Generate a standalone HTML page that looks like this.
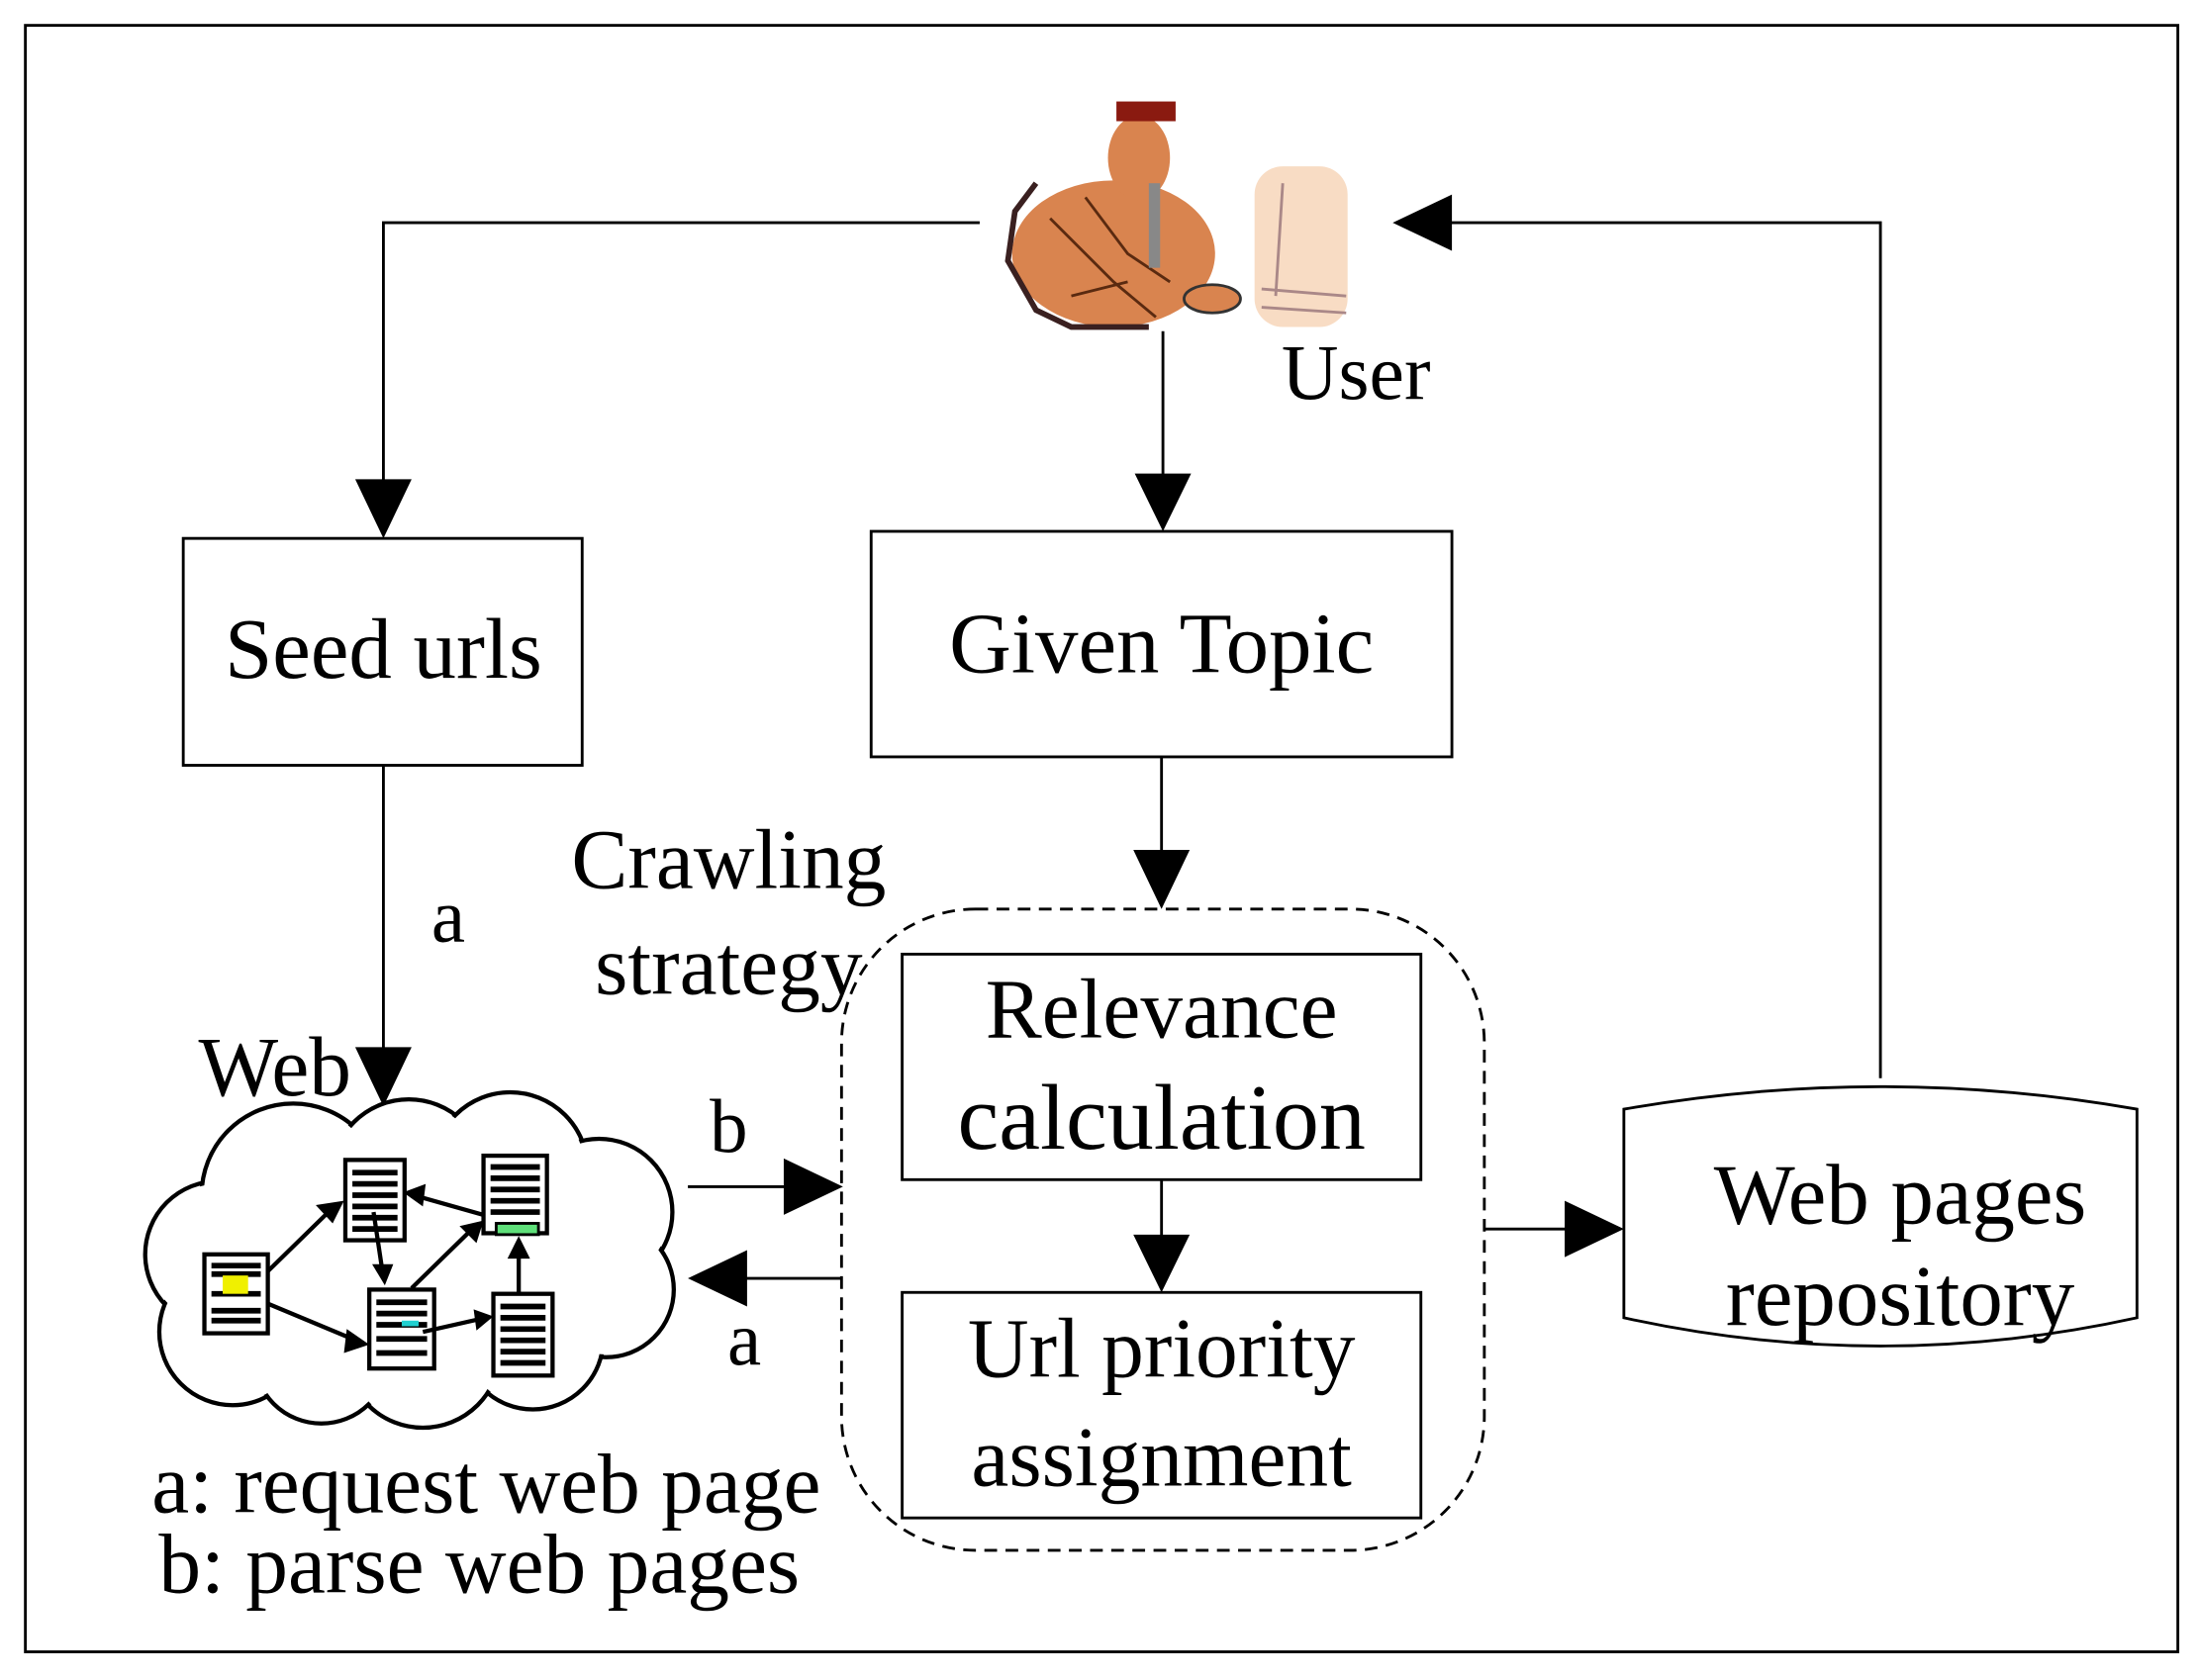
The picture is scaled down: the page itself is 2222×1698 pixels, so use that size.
<!DOCTYPE html>
<html><head><meta charset="utf-8"><style>
html,body{margin:0;padding:0;background:#fff}
svg{display:block}
text{font-family:"Liberation Serif",serif;fill:#000}
</style></head><body>
<svg width="2222" height="1698" viewBox="0 0 1560 1192" preserveAspectRatio="none" xmlns="http://www.w3.org/2000/svg">
<rect x="18" y="18" width="1527" height="1154" fill="none" stroke="#000" stroke-width="2"/>

<!-- User icon -->
<g>
<ellipse cx="790" cy="180" rx="72" ry="52" fill="#d9844f"/>
<path d="M735 130 L720 150 L715 185 L735 220 L760 232 L815 232" fill="none" stroke="#3a2020" stroke-width="4"/>
<path d="M745 155 L790 200 L820 225 M770 140 L800 180 L830 200 M760 210 L800 200" fill="none" stroke="#5a2a10" stroke-width="2"/>
<ellipse cx="808" cy="112" rx="22" ry="30" fill="#d9844f"/>
<rect x="792" y="72" width="42" height="14" fill="#8a1a10"/>
<rect x="815" y="130" width="8" height="60" fill="#888"/>
<ellipse cx="860" cy="212" rx="20" ry="10" fill="#d9844f" stroke="#333" stroke-width="2"/>
<rect x="890" y="118" width="66" height="114" rx="20" fill="#f8dcc4"/>
<path d="M910 130 L905 210 M895 205 L955 210 M895 218 L955 222" stroke="#a88" stroke-width="2" fill="none"/>
</g>
<text x="962" y="283" font-size="56" text-anchor="middle">User</text>

<!-- connectors -->
<g stroke="#000" stroke-width="2" fill="none">
<polyline points="695,158 272,158 272,345"/>
<line x1="825" y1="235" x2="825" y2="340"/>
<line x1="824" y1="537" x2="824" y2="605"/>
<line x1="824" y1="837" x2="824" y2="878"/>
<line x1="272" y1="543" x2="272" y2="745"/>
<line x1="488" y1="842" x2="560" y2="842"/>
<line x1="597" y1="907" x2="528" y2="907"/>
<line x1="1053" y1="872" x2="1112" y2="872"/>
<polyline points="1334,765 1334,158 1028,158"/>
</g>
<g fill="#000">
<polygon points="252,340 292,340 272,382"/>
<polygon points="805,336 845,336 825,377"/>
<polygon points="804,603 844,603 824,645"/>
<polygon points="804,876 844,876 824,917"/>
<polygon points="252,743 292,743 272,785"/>
<polygon points="556,822 556,862 598,842"/>
<polygon points="530,887 530,927 488,907"/>
<polygon points="1110,852 1110,892 1152,872"/>
<polygon points="1030,138 1030,178 988,158"/>
</g>

<!-- boxes -->
<g fill="none" stroke="#000" stroke-width="2">
<rect x="130" y="382" width="283" height="161"/>
<rect x="618" y="377" width="412" height="160"/>
<rect x="640" y="677" width="368" height="160"/>
<rect x="640" y="917" width="368" height="160"/>
<rect x="597" y="645" width="456" height="455" rx="95" ry="95" stroke-dasharray="9,6"/>
<path d="M1152 787 Q1334 755 1516 787 L1516 935 Q1334 975 1152 935 Z"/>
</g>
<text x="272" y="481" font-size="61" text-anchor="middle">Seed urls</text>
<text x="824" y="477" font-size="61" text-anchor="middle">Given Topic</text>
<text x="824" y="736" font-size="60" text-anchor="middle">Relevance</text>
<text x="824" y="815" font-size="66" text-anchor="middle">calculation</text>
<text x="824" y="977" font-size="60" text-anchor="middle">Url priority</text>
<text x="824" y="1054" font-size="60" text-anchor="middle">assignment</text>
<text x="1348" y="868" font-size="61" text-anchor="middle">Web pages</text>
<text x="1348" y="940" font-size="61" text-anchor="middle">repository</text>
<text x="517" y="630" font-size="60" text-anchor="middle">Crawling</text>
<text x="517" y="705" font-size="60" text-anchor="middle">strategy</text>
<text x="318" y="668" font-size="54" text-anchor="middle">a</text>
<text x="195" y="777" font-size="60" text-anchor="middle">Web</text>
<text x="517" y="817" font-size="54" text-anchor="middle">b</text>
<text x="528" y="968" font-size="54" text-anchor="middle">a</text>
<text x="345" y="1073" font-size="60" text-anchor="middle">a: request web page</text>
<text x="340" y="1130" font-size="60" text-anchor="middle">b: parse web pages</text>

<!-- cloud -->
<g stroke="#000" stroke-width="3" fill="#fff">
<circle cx="155" cy="890" r="52"/>
<circle cx="165" cy="945" r="52"/>
<circle cx="208" cy="848" r="65"/>
<circle cx="290" cy="835" r="55"/>
<circle cx="362" cy="830" r="55"/>
<circle cx="425" cy="860" r="52"/>
<circle cx="430" cy="915" r="48"/>
<circle cx="378" cy="950" r="50"/>
<circle cx="300" cy="958" r="55"/>
<circle cx="228" cy="962" r="48"/>
</g>
<g fill="#fff">
<circle cx="155" cy="890" r="50"/>
<circle cx="165" cy="945" r="50"/>
<circle cx="208" cy="848" r="63"/>
<circle cx="290" cy="835" r="53"/>
<circle cx="362" cy="830" r="53"/>
<circle cx="425" cy="860" r="50"/>
<circle cx="430" cy="915" r="46"/>
<circle cx="378" cy="950" r="48"/>
<circle cx="300" cy="958" r="53"/>
<circle cx="228" cy="962" r="46"/>
<ellipse cx="290" cy="895" rx="110" ry="70"/>
</g>
<!-- docs -->
<g stroke="#000" stroke-width="3" fill="#fff">
<rect x="145" y="890" width="45" height="56"/>
<rect x="245" y="823" width="42" height="57"/>
<rect x="262" y="915" width="46" height="56"/>
<rect x="343" y="820" width="45" height="55"/>
<rect x="350" y="918" width="42" height="58"/>
</g>
<g stroke="#000" stroke-width="4">
<path d="M150 898h35M150 930h35M150 937h35M150 918h35M150 904h35"/>
<path d="M250 832h32M250 840h32M250 848h32M250 856h32M250 864h32M250 872h32"/>
<path d="M267 924h36M267 932h36M267 940h36M267 950h36M267 960h36"/>
<path d="M348 828h35M348 836h35M348 844h35M348 852h35M348 860h35"/>
<path d="M355 927h32M355 935h32M355 943h32M355 951h32M355 959h32M355 967h32"/>
</g>
<rect x="158" y="905" width="18" height="13" fill="#f0f000"/>
<rect x="352" y="868" width="30" height="8" fill="#5fe07a" stroke="#000" stroke-width="2"/>
<rect x="285" y="937" width="12" height="4" fill="#20d0d0"/>
<g stroke="#000" stroke-width="3">
<line x1="190" y1="902" x2="235" y2="858"/>
<line x1="190" y1="925" x2="250" y2="950"/>
<line x1="343" y1="862" x2="297" y2="849"/>
<line x1="265" y1="860" x2="271" y2="900"/>
<line x1="292" y1="914" x2="335" y2="872"/>
<line x1="300" y1="945" x2="340" y2="936"/>
<line x1="368" y1="918" x2="368" y2="888"/>
</g>
<g fill="#000">
<polygon points="244,852 224,855 236,868"/>
<polygon points="262,954 246,943 244,960"/>
<polygon points="286,846 302,840 300,856"/>
<polygon points="273,912 264,897 279,897"/>
<polygon points="343,866 326,870 338,882"/>
<polygon points="350,934 336,929 338,944"/>
<polygon points="368,877 360,893 376,893"/>
</g>
</svg>
</body></html>
